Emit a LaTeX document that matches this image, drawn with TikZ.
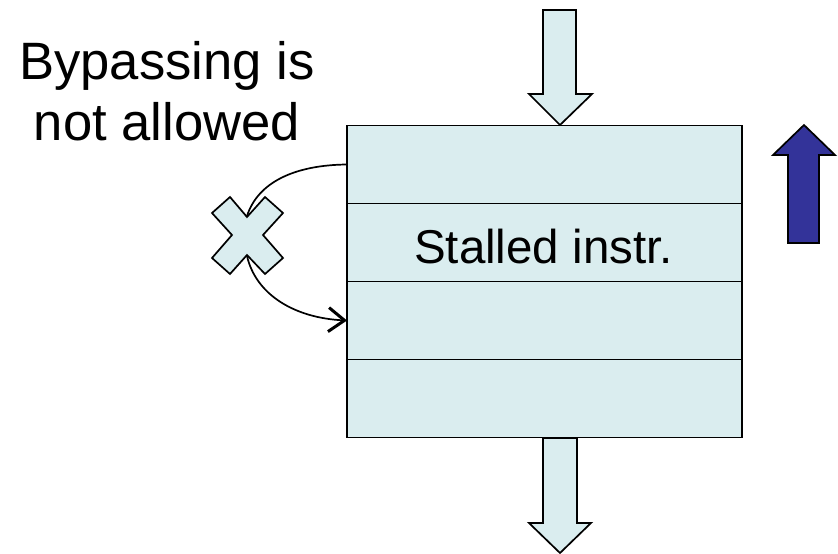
\documentclass[tikz,border=0pt]{standalone}
\usepackage{fontspec}
\setmainfont{Liberation Sans}
\usetikzlibrary{arrows.meta}
\definecolor{cellfill}{HTML}{DAEDEF}
\definecolor{upblue}{HTML}{333399}
\tikzset{
  cell/.style={draw=black, fill=cellfill, line width=1.7pt, minimum width=395pt, minimum height=78pt, inner sep=0pt, outer sep=0pt},
  blockarrow/.style={draw=black, fill=cellfill, line width=1.7pt, line join=miter},
  bluearrow/.style={draw=black, fill=upblue, line width=1.7pt},
  curve/.style={draw=black, line width=1.7pt},
}
\begin{document}
\begin{tikzpicture}[x=1pt,y=-1pt]
\useasboundingbox (0,0) rectangle (838,554);
% pipeline stages
\node[cell] (r1) at (544.5,164.5) {};
\node[cell] (r2) at (544.5,242.5) {};
\node[cell] (r3) at (544.5,320.5) {};
\node[cell] (r4) at (544.5,398.5) {};
\node[font=\fontsize{47.5pt}{50pt}\selectfont, anchor=base] (lbl) at (543.5,263) {Stalled instr.};
% label
\node[font=\fontsize{52.6pt}{61pt}\selectfont, align=center, anchor=base] (note) at (167,140) {Bypassing is\\not allowed};
% block arrows
\draw[blockarrow] (543,10) -- (576,10) -- (576,94) -- (592,94) -- (560,125) -- (529,94) -- (543,94) -- cycle;
\draw[blockarrow] (543,438) -- (577,438) -- (577,523) -- (591,523) -- (560,553) -- (529,523) -- (543,523) -- cycle;
\draw[bluearrow] (788,243) -- (819,243) -- (819,155) -- (835,155) -- (804,125) -- (773,155) -- (788,155) -- cycle;
% X mark
\draw[blockarrow] (247,217) -- (265,197) -- (283,213) -- (263,235) -- (283,258) -- (265,274) -- (247,255) -- (230,274) -- (212,258) -- (232,235) -- (212,213) -- (230,197) -- cycle;
\coordinate (xtop) at (247,216);
\coordinate (xbot) at (247,256);
% curves
\draw[curve] (r1.west) .. controls (295,165) and (258,182) .. (xtop);
\draw[curve, -{Straight Barb[length=16pt,width=24pt,line width=3pt]}] (xbot) .. controls (256,295) and (295,318) .. (r3.west);
\end{tikzpicture}
\end{document}
